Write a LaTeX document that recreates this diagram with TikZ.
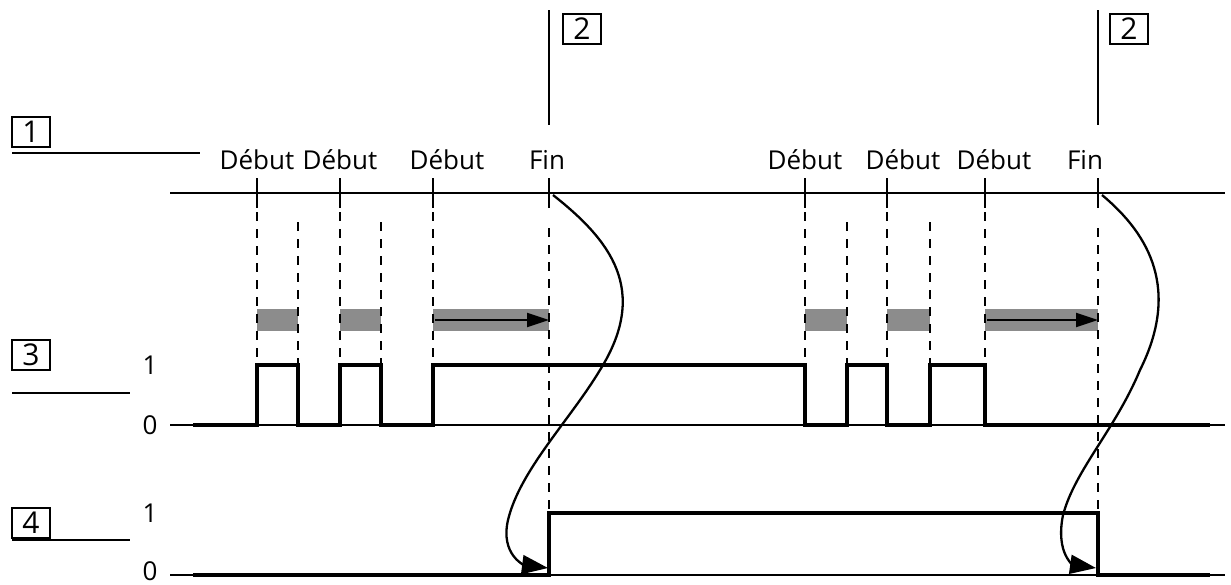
\documentclass[tikz,border=0pt]{standalone}
\usepackage{fontspec}
\setmainfont{Open Sans}
\usetikzlibrary{arrows.meta}
\begin{document}
\begin{tikzpicture}[x=1pt,y=-1pt,
  thin line/.style={line width=1.6pt},
  sig/.style={line width=4.5pt,line join=miter},
  dsh/.style={line width=1.8pt,dash pattern=on 9pt off 8pt},
  bar/.style={fill=black!45,draw=none},
  lbl/.style={font=\fontsize{26}{26}\selectfont,inner sep=0pt},
  num/.style={draw,line width=1.4pt,minimum width=38pt,minimum height=30pt,inner sep=0pt,font=\fontsize{30}{30}\selectfont},
  curve/.style={line width=2.3pt,-{Triangle[length=26pt,width=19pt]}}]
\useasboundingbox (0,0) rectangle (1231,584);
% numbered boxes
\node[num] (b1) at (31,132) {1};
\node[num] (b3) at (31,355) {3};
\node[num] (b4) at (31,523) {4};
\node[num] (b2a) at (582,29) {2};
\node[num] (b2b) at (1129,29) {2};
\coordinate (l1a) at (12,153); \coordinate (l1b) at (200,153);
\coordinate (l3a) at (12,393); \coordinate (l3b) at (130,393);
\coordinate (l4a) at (12,540); \coordinate (l4b) at (130,540);
\draw[thin line] (l1a)--(l1b) (l3a)--(l3b) (l4a)--(l4b);
\draw[thin line] (549,10)--(549,125) (1098,10)--(1098,125);
% top axis
\draw[thin line] (170,193)--(1225,193);
% labels
\foreach \x/\t in {257/Début,340/Début,447/Début,547/Fin,805/Début,903/Début,994/Début,1085/Fin}
  \node[lbl] at (\x,160) {\t};
% ticks
\foreach \x in {257,340,433,549,805,887,985,1098}
  \draw[thin line] (\x,178)--(\x,208);
% bars
\foreach \a/\b in {257/298,340/381,433/549,805/847,887/930,985/1098}
  \fill[bar] (\a,309) rectangle (\b,331);
\coordinate (ar1a) at (435,320); \coordinate (ar1b) at (549,320);
\coordinate (ar2a) at (987,320); \coordinate (ar2b) at (1098,320);
\draw[line width=2pt,-{Triangle[length=22pt,width=14pt]}] (ar1a)--(ar1b);
\draw[line width=2pt,-{Triangle[length=22pt,width=14pt]}] (ar2a)--(ar2b);
% dashed lines
\foreach \x in {257,340,433,805,887,985}
  \draw[dsh] (\x,212)--(\x,362);
\foreach \x in {298,381,847,930}
  \draw[dsh] (\x,222)--(\x,422);
\draw[dsh] (549,228)--(549,512);
\draw[dsh] (1098,228)--(1098,512);
% level labels
\foreach \y/\t in {365/1,425/0,513/1,571/0}
  \node[lbl] at (150,\y) {\t};
% axes
\draw[thin line] (170,425)--(1225,425);
\draw[thin line] (170,575)--(1225,575);
% signal 3
\draw[sig] (193,425)--(257,425)--(257,365)--(298,365)--(298,425)--(340,425)--(340,365)--(381,365)--(381,425)--(433,425)--(433,365)--(805,365)--(805,425)--(847,425)--(847,365)--(887,365)--(887,425)--(930,425)--(930,365)--(985,365)--(985,425)--(1210,425);
% signal 4
\draw[sig] (193,575)--(549,575)--(549,513)--(1098,513)--(1098,575)--(1210,575);
% curves
\coordinate (c1s) at (553,195); \coordinate (c1e) at (548,568);
\coordinate (c2s) at (1102,195); \coordinate (c2e) at (1096,568);
\draw[curve] (c1s) .. controls (610,240) and (650,290) .. (600,370)
  .. controls (570,420) and (520,470) .. (508,520)
  .. controls (500,555) and (525,565) .. (c1e);
\draw[curve] (c2s) .. controls (1150,235) and (1180,290) .. (1140,370)
  .. controls (1115,430) and (1075,470) .. (1063,515)
  .. controls (1055,555) and (1075,565) .. (c2e);
\end{tikzpicture}
\end{document}
